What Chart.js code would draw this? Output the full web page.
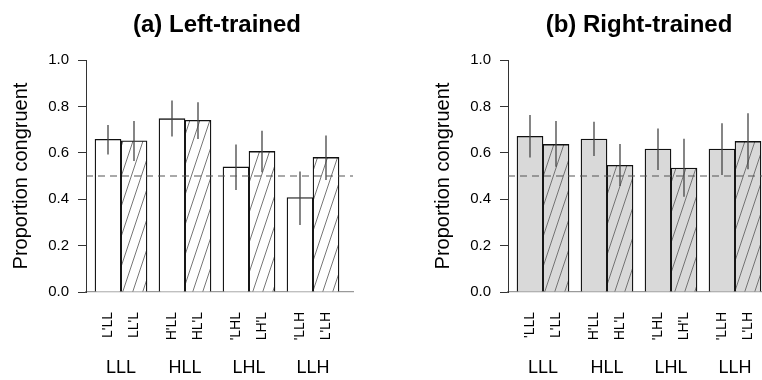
<!DOCTYPE html>
<html><head><meta charset="utf-8">
<script src="https://cdn.jsdelivr.net/npm/chart.js@4/dist/chart.umd.min.js"></script>
<style>
html,body{margin:0;padding:0;background:#fff;overflow:hidden;width:762px;height:380px;}
#wrap{position:relative;width:762px;height:380px;overflow:hidden;}
canvas{position:absolute;top:0;width:434px;height:380px;}
</style></head><body>
<div id="wrap">
<canvas id="c1" width="434" height="380" style="left:0px"></canvas>
<canvas id="c2" width="434" height="380" style="left:422px"></canvas>
</div>
<script>
// ---- data ----
const groups = ["LLL", "HLL", "LHL", "LLH"];
const yTicks = [0, 0.2, 0.4, 0.6, 0.8, 1.0];
const chance = 0.5;

const leftPlainLabels   = ["L'LL", "H'LL", "'LHL", "'LLH"];
const leftHatchLabels   = ["LL'L", "HL'L", "LH'L", "L'LH"];
const leftPlain   = [0.658, 0.747, 0.539, 0.407];
const leftPlainLo = [0.593, 0.670, 0.440, 0.289];
const leftPlainHi = [0.720, 0.825, 0.636, 0.519];
const leftHatch   = [0.652, 0.740, 0.606, 0.580];
const leftHatchLo = [0.565, 0.660, 0.516, 0.483];
const leftHatchHi = [0.737, 0.818, 0.695, 0.675];

const rightPlainLabels  = ["'LLL", "H'LL", "'LHL", "'LLH"];
const rightHatchLabels  = ["L'LL", "HL'L", "LH'L", "L'LH"];
const rightPlain   = [0.671, 0.659, 0.616, 0.616];
const rightPlainLo = [0.580, 0.586, 0.526, 0.504];
const rightPlainHi = [0.763, 0.734, 0.705, 0.727];
const rightHatch   = [0.636, 0.546, 0.534, 0.649];
const rightHatchLo = [0.540, 0.457, 0.411, 0.529];
const rightHatchHi = [0.737, 0.638, 0.661, 0.770];

// ---- styling helpers ----
Chart.defaults.font.family = "'Liberation Sans', Arial, Helvetica, sans-serif";
Chart.defaults.color = '#000';

function hatch(bg) {
  const w = 10, h = 30;
  const c = document.createElement('canvas'); c.width = w; c.height = h;
  const g = c.getContext('2d');
  g.fillStyle = bg; g.fillRect(0, 0, w, h);
  g.strokeStyle = '#666'; g.lineWidth = 0.9;
  for (const dx of [-w, 0, w]) { g.beginPath(); g.moveTo(dx, h); g.lineTo(dx + w, 0); g.stroke(); }
  return g.createPattern(c, 'repeat');
}

const overlay = {
  id: 'overlay',
  afterDatasetsDraw(chart) {
    const ctx = chart.ctx, ys = chart.scales.y, area = chart.chartArea;
    ctx.save();
    ctx.strokeStyle = '#444'; ctx.lineWidth = 1.3;
    chart.data.datasets.forEach((ds, di) => {
      const meta = chart.getDatasetMeta(di);
      meta.data.forEach((bar, i) => {
        ctx.beginPath();
        ctx.moveTo(bar.x, ys.getPixelForValue(ds.errLo[i]));
        ctx.lineTo(bar.x, ys.getPixelForValue(ds.errHi[i]));
        ctx.stroke();
      });
    });
    const yc = ys.getPixelForValue(chance);
    ctx.strokeStyle = '#555'; ctx.lineWidth = 1.2; ctx.setLineDash([7, 5]);
    ctx.beginPath(); ctx.moveTo(area.left, yc); ctx.lineTo(area.right, yc); ctx.stroke();
    ctx.restore();
  },
  afterDraw(chart) {
    const ctx = chart.ctx, xs = chart.scales.x;
    ctx.save();
    ctx.fillStyle = '#000';
    ctx.font = "14px 'Liberation Sans', Arial, sans-serif";
    ctx.textAlign = 'right'; ctx.textBaseline = 'middle';
    chart.data.datasets.forEach((ds, di) => {
      const meta = chart.getDatasetMeta(di);
      meta.data.forEach((bar, i) => {
        ctx.save();
        ctx.translate(bar.x, 312);
        ctx.rotate(-Math.PI / 2);
        ctx.fillText(ds.subLabels[i], 0, 0);
        ctx.restore();
      });
    });
    ctx.font = "18px 'Liberation Sans', Arial, sans-serif";
    ctx.textAlign = 'center';
    groups.forEach((g, i) => ctx.fillText(g, xs.getPixelForValue(i + 1), 368));
    ctx.restore();
  }
};

function makeChart(id, title, fill, plain, plainLo, plainHi, plainLab, hat, hatLo, hatHi, hatLab) {
  const pts = arr => arr.map((v, i) => ({ x: i + 1, y: v }));
  const common = { borderColor: '#111', borderWidth: 1.3, borderSkipped: 'start', barThickness: 26 };
  return new Chart(document.getElementById(id), {
    type: 'bar',
    data: {
      datasets: [
        Object.assign({ data: pts(plain), backgroundColor: fill, errLo: plainLo, errHi: plainHi, subLabels: plainLab }, common),
        Object.assign({ data: pts(hat), backgroundColor: hatch(fill), errLo: hatLo, errHi: hatHi, subLabels: hatLab }, common)
      ]
    },
    options: {
      responsive: false, animation: false, devicePixelRatio: 1,
      layout: { padding: 0 },
      plugins: {
        legend: { display: false }, tooltip: { enabled: false },
        title: { display: true, text: title, color: '#000', font: { size: 24, weight: 'bold' }, padding: { top: 11, bottom: 20.2 } }
      },
      scales: {
        x: {
          type: 'linear', position: 'bottom', min: 0.453125, max: 4.625, z: 1, offset: false,
          ticks: { display: false, stepSize: 1, includeBounds: false },
          grid: { display: false, offset: false },
          border: { display: true, color: '#9a9a9a', width: 1.3 },
          afterFit: s => { s.height = 88; }
        },
        y: {
          position: 'left', min: 0, max: 1,
          afterBuildTicks: s => { s.ticks = yTicks.map(v => ({ value: v })); },
          ticks: { padding: 9, font: { size: 15 }, color: '#000', callback: v => Number(v).toFixed(1) },
          grid: { display: true, drawOnChartArea: false, drawTicks: true, tickLength: 8, color: '#333', lineWidth: 1 },
          border: { display: true, color: '#333', width: 1 },
          title: { display: true, text: 'Proportion congruent', color: '#000', font: { size: 20 }, padding: { top: 9, bottom: 0 } },
          afterFit: s => { s.width = 86; }
        },
        y2: {
          position: 'right', display: true,
          ticks: { display: false }, grid: { display: false }, border: { display: false },
          afterFit: s => { s.width = 81; }
        }
      }
    },
    plugins: [overlay]
  });
}

makeChart('c1', '(a) Left-trained', '#ffffff',
  leftPlain, leftPlainLo, leftPlainHi, leftPlainLabels,
  leftHatch, leftHatchLo, leftHatchHi, leftHatchLabels);
makeChart('c2', '(b) Right-trained', '#d9d9d9',
  rightPlain, rightPlainLo, rightPlainHi, rightPlainLabels,
  rightHatch, rightHatchLo, rightHatchHi, rightHatchLabels);
</script>
</body></html>
